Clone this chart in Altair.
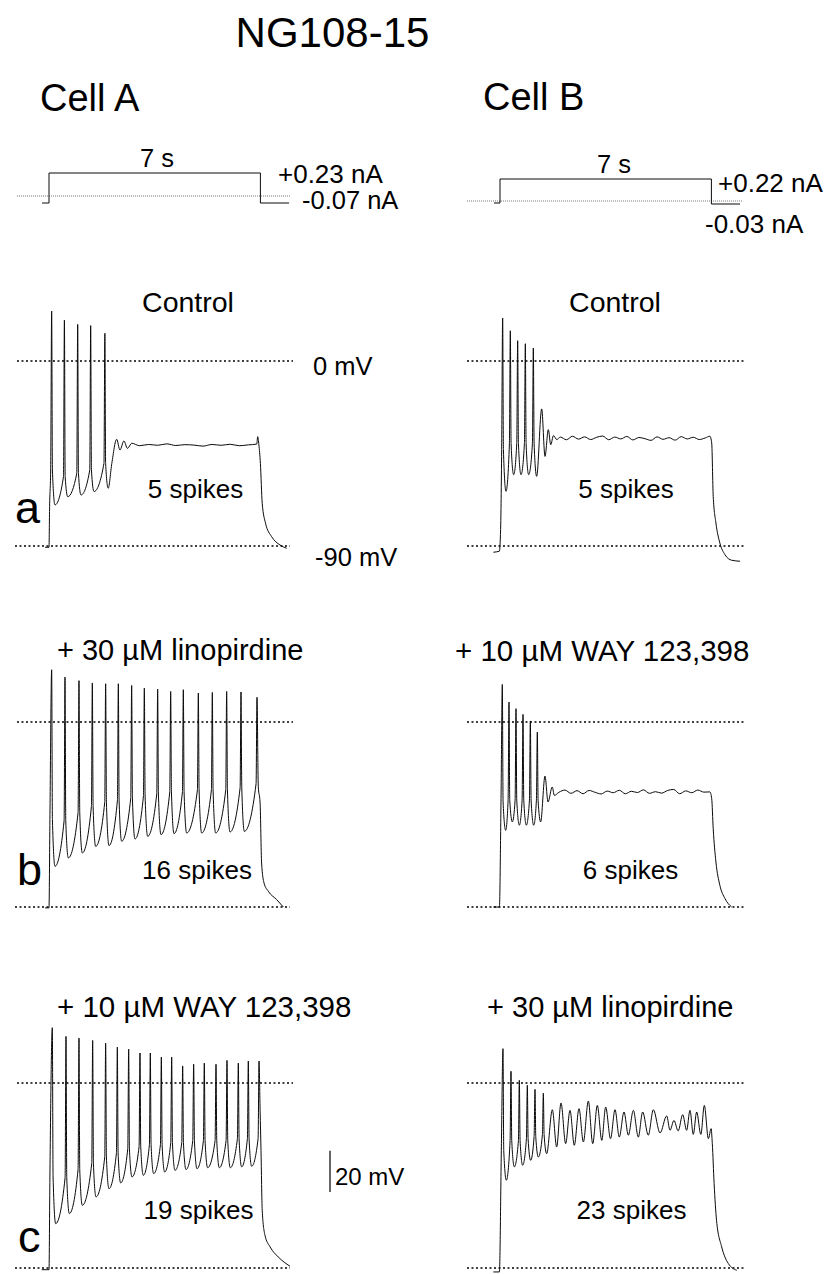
import altair as alt
import pandas as pd

FONT = "Liberation Sans"
INK = "#0a0a0a"

# ---------------- current steps (t in s, I in nA) ----------------
STEP_A_T = [-0.23, 0.0, 0.0, 7.0, 7.0, 7.95]
STEP_A_I = [-0.07, -0.07, 0.23, 0.23, -0.07, -0.07]
STEP_B_T = [-0.20, 0.0, 0.0, 7.0, 7.0, 7.95]
STEP_B_I = [-0.02, -0.02, 0.22, 0.22, -0.03, -0.03]

# ---------------- Cell A, control (mV) ----------------
A1_HEAD_T = [-0.13, 0.0, 0.02, 0.055]
A1_HEAD_V = [-90.6, -90.6, -70.8, -53.0]
A1_SPK_T = [0.088, 0.51, 0.95, 1.38, 1.85]
A1_SPK_V = [24.3, 19.9, 17.8, 17.2, 13.5]
A1_FOOT_V = [None, -56.2, -54.6, -53.0, -49.8]
A1_TRG_V = [-70.0, -66.0, -65.2, -63.5, -61.9]
A1_TAIL_T = [2.08, 2.24, 2.35, 2.48, 2.60, 2.74, 3.0, 3.3, 3.6, 3.9, 4.2, 4.5, 4.8, 5.1,
             5.4, 5.7, 6.0, 6.3, 6.6, 6.88, 6.91, 6.95, 7.0, 7.06, 7.17, 7.37, 7.65, 7.87]
A1_TAIL_V = [-49.8, -38.1, -43.3, -38.9, -42.5, -40.0, -41.2, -40.6, -41.0, -40.3, -41.1, -40.7, -40.9, -41.4,
             -40.6, -41.0, -40.5, -41.2, -40.8, -40.4, -36.8, -40.8, -49.8, -69.2, -78.9, -85.4, -89.5, -91.1]

# ---------------- Cell A, + 30 uM linopirdine ----------------
A2_HEAD_T = [-0.13, 0.0, 0.03]
A2_HEAD_V = [-90.4, -90.4, -47.5]
A2_SPK_T = [0.088, 0.53, 0.993, 1.435, 1.876, 2.296, 2.737, 3.157, 3.598, 4.029, 4.448, 4.945,
            5.408, 5.883, 6.358, 6.887]
A2_SPK_V = [25.4, 21.9, 20.1, 19.0, 18.6, 18.6, 17.8, 16.5, 16.0, 14.9, 15.7, 14.1, 14.4, 14.9, 14.6, 12.0]
A2_FOOT_V = [None, -48, -44, -41, -39, -38, -37, -36, -35, -34, -34, -33, -33, -33, -32, -30]
A2_TRG_V = [-70.2, -66.1, -63.7, -60.5, -60.1, -58.0, -56.9, -55.6, -54.8, -54.3, -54.0, -54.0,
            -54.0, -53.5, -53.2, None]
A2_TAIL_T = [6.93, 6.99, 7.04, 7.12, 7.26, 7.54, 7.76]
A2_TAIL_V = [-31.3, -39.4, -68.6, -78.3, -82.3, -86.4, -90.0]

# ---------------- Cell A, + 10 uM WAY 123,398 ----------------
A3_HEAD_T = [-0.24, 0.0, 0.03]
A3_HEAD_V = [-90.8, -90.8, -45.7]
A3_SPK_T = [0.110, 0.563, 0.993, 1.446, 1.876, 2.263, 2.638, 3.013, 3.355, 3.720, 4.062, 4.426,
            4.790, 5.143, 5.530, 5.894, 6.269, 6.600, 6.954]
A3_SPK_V = [26.9, 22.7, 21.9, 20.7, 19.4, 17.5, 16.5, 14.6, 14.6, 12.6, 12.6, 8.3, 9.1, 9.7, 9.1,
            11.0, 9.7, 10.7, 10.7]
A3_FOOT_V = [None, -46, -42, -39, -36, -34, -32, -31, -30, -30, -29, -29, -28, -28, -28, -28, -27, -27, -27]
A3_TRG_V = [-68.4, -63.5, -59.5, -55.4, -51.4, -48.6, -45.7, -44.9, -44.1, -43.3, -42.5, -42.1,
            -41.7, -41.2, -41.2, -41.2, -40.8, -40.5, None]
A3_TAIL_T = [6.99, 7.02, 7.06, 7.15, 7.32, 7.59, 7.98]
A3_TAIL_V = [-13.3, -32.7, -61.9, -74.0, -79.7, -84.6, -89.1]

# ---------------- Cell B, control ----------------
B1_HEAD_T = [-0.22, -0.02, 0.02, 0.055]
B1_HEAD_V = [-93.0, -92.5, -82.0, -43.1]
B1_SPK_T = [0.088, 0.342, 0.585, 0.839, 1.104]
B1_SPK_V = [20.9, 14.7, 9.9, 8.4, 6.3]
B1_FOOT_V = [None, -40.0, -40.0, -40.0, -40.0]
B1_TRG_V = [-63.4, -55.3, -55.3, -55.3, -56.1]
B1_TAIL_T = [1.38, 1.49, 1.60, 1.68, 1.77, 1.88,
             2.0, 2.2, 2.4, 2.6, 2.8, 3.0, 3.2, 3.4, 3.6, 3.8, 4.0, 4.2, 4.4, 4.6, 4.8, 5.0,
             5.2, 5.4, 5.6, 5.8, 6.0, 6.2, 6.4, 6.6, 6.8, 6.95,
             7.01, 7.06, 7.15, 7.28, 7.45, 7.67, 7.95]
B1_TAIL_V = [-23.3, -46.4, -33.4, -40.7, -36.3, -38.2,
             -37.0, -38.3, -36.6, -38.0, -36.9, -38.2, -37.1, -36.5, -38.3, -37.0, -37.9, -36.7,
             -38.4, -37.2, -37.8, -38.6, -36.9, -38.1, -37.3, -38.5, -36.8, -37.9, -37.1, -38.2,
             -37.4, -36.6,
             -39.9, -65.8, -78.8, -88.5, -94.2, -96.9, -97.4]

# ---------------- Cell B, + 10 uM WAY 123,398 ----------------
B2_HEAD_T = [-0.22, -0.02, 0.033]
B2_HEAD_V = [-90.0, -90.0, -38.9]
B2_SPK_T = [0.077, 0.298, 0.53, 0.762, 1.005, 1.236]
B2_SPK_V = [18.3, 9.7, 6.5, 3.7, 0.5, -4.9]
B2_FOOT_V = [None, -38.0, -38.0, -38.0, -38.0, -38.0]
B2_TRG_V = [-52.7, -48.6, -50.2, -50.2, -50.2, -48.6]
B2_TAIL_T = [1.49, 1.59, 1.73, 1.80,
             1.95, 2.15, 2.35, 2.55, 2.75, 2.95, 3.15, 3.35, 3.55, 3.75, 3.95, 4.15, 4.35, 4.55,
             4.75, 4.95, 5.15, 5.35, 5.55, 5.75, 5.95, 6.15, 6.35, 6.55, 6.75, 6.95,
             7.01, 7.06, 7.15, 7.28, 7.45, 7.67]
B2_TAIL_V = [-26.3, -38.9, -31.6, -35.7,
             -34.2, -33.1, -34.7, -33.4, -34.9, -33.3, -34.2, -35.0, -33.6, -34.4, -33.2, -34.9,
             -33.7, -34.3, -33.0, -34.7, -33.9, -34.6, -33.3, -32.8, -34.9, -33.5, -34.4, -33.1,
             -34.1, -34.0,
             -37.3, -51.9, -68.1, -79.4, -85.9, -90.0]

# ---------------- Cell B, + 30 uM linopirdine ----------------
B3_HEAD_T = [-0.22, -0.02, 0.044]
B3_HEAD_V = [-91.9, -91.9, -32.7]
B3_SPK_T = [0.099, 0.364, 0.64, 0.905, 1.159, 1.435]
B3_SPK_V = [16.7, 5.7, 1.3, -1.1, -3.1, -4.9]
B3_FOOT_V = [None, -28.0, -28.0, -27.0, -26.0, -25.0]
B3_TRG_V = [-47.3, -40.8, -40.0, -37.6, -36.0, -34.4]
B3_OSC_PK_T = [1.733, 2.02, 2.318, 2.616, 2.925, 3.223, 3.499, 3.808, 4.106, 4.415, 4.724, 5.077,
               5.519, 5.76, 6.049, 6.291, 6.512, 6.766]
B3_OSC_PK_V = [-13.0, -9.7, -13.3, -12.5, -8.8, -10.9, -11.7, -13.0, -14.1, -13.3, -14.1, -13.0,
               -16.0, -18.2, -15.4, -13.3, -14.1, -10.9]
B3_OSC_TR_T = [1.876, 2.174, 2.46, 2.76, 3.07, 3.37, 3.66, 3.95, 4.25, 4.58, 4.91, 5.30,
               5.63, 5.90, 6.18, 6.40, 6.65, 6.90]
B3_OSC_TR_V = [-31.1, -29.5, -30.3, -28.7, -29.5, -27.9, -27.1, -26.3, -25.4, -26.3, -25.4, -24.3,
               -23.0, -23.3, -23.0, -25.0, -25.0, -27.1]
B3_TAIL_T = [6.99, 7.03, 7.09, 7.17, 7.34, 7.56, 7.84]
B3_TAIL_V = [-22.2, -29.5, -48.9, -66.8, -79.7, -87.8, -91.1]

# ---------------- layout / drawing constants ----------------
RISE, FALL, AHP = 0.03, 0.025, 0.11          # spike shape (s)
COL_W = [432, 386]
ORIGIN_X = [41, 60]                           # px of t = 0 inside each column
ROW_H = [233, 361, 361, 311]
PX_PER_S, PX_PER_MV, PX_PER_NA = 30.2, 2.056, 100.0


def trace_df(head_t, head_v, spk_t, spk_v, foot_v, trg_v, tail_t, tail_v):
    pts = list(zip(head_t, head_v, strict=True))
    for t, pk, ft, tr in zip(spk_t, spk_v, foot_v, trg_v, strict=True):
        if ft is not None:
            pts.append((t - RISE, ft))
        pts.append((t, pk))
        if tr is not None:
            pts.append((t + FALL, ft if ft is not None else head_v[-1]))
            pts.append((t + AHP, tr))
    pts += list(zip(tail_t, tail_v, strict=True))
    pts.sort(key=lambda p: p[0])
    return pd.DataFrame({"t": [p[0] for p in pts], "v": [p[1] for p in pts],
                         "i": list(range(len(pts)))})


def xscale(col):
    lo = -ORIGIN_X[col] / PX_PER_S
    hi = (COL_W[col] - ORIGIN_X[col]) / PX_PER_S
    return alt.Scale(domain=[lo, hi], nice=False, zero=False)


def yscale(row, zero_px, unit_px):
    return alt.Scale(domain=[-(ROW_H[row] - zero_px) / unit_px, zero_px / unit_px],
                     nice=False, zero=False)


def line_layer(df, sx, sy, interp="monotone", width=1.0):
    return alt.Chart(df).mark_line(color=INK, strokeWidth=width, interpolate=interp).encode(
        x=alt.X("t:Q", scale=sx, axis=None),
        y=alt.Y("v:Q", scale=sy, axis=None),
        order="i:Q")


def hlines(t1, t2, v, sx, sy, dash, color, width):
    df = pd.DataFrame({"t1": t1, "t2": t2, "v": v})
    return alt.Chart(df).mark_rule(strokeDash=dash, color=color, strokeWidth=width).encode(
        x=alt.X("t1:Q", scale=sx, axis=None), x2="t2:Q",
        y=alt.Y("v:Q", scale=sy, axis=None))


def txt(label, t, v, size, align, sx, sy):
    df = pd.DataFrame({"t": [t], "v": [v], "label": [label]})
    return alt.Chart(df).mark_text(align=align, baseline="alphabetic", fontSize=size,
                                   font=FONT, color="black").encode(
        x=alt.X("t:Q", scale=sx, axis=None),
        y=alt.Y("v:Q", scale=sy, axis=None),
        text="label:N")


def step_df(ts, cs):
    return pd.DataFrame({"t": ts, "v": cs, "i": list(range(len(ts)))})


# ---------------- row 0: title, cell names, current steps ----------------
sxA, sxB = xscale(0), xscale(1)

sy0A = yscale(0, 188, PX_PER_NA)
a0 = alt.layer(
    hlines([-1.06], [8.01], [0.0], sxA, sy0A, [1, 1], "#777777", 1.0),
    line_layer(step_df(STEP_A_T, STEP_A_I), sxA, sy0A, interp="linear"),
    txt("NG108-15", 9.387, 1.495, 42, "center", sxA, sy0A),
    txt("Cell A", -0.298, 0.85, 38, "left", sxA, sy0A),
    txt("7 s", 3.576, 0.29, 25.5, "center", sxA, sy0A),
    txt("+0.23 nA", 7.583, 0.13, 26, "left", sxA, sy0A),
    txt("-0.07 nA", 8.377, -0.13, 25.5, "left", sxA, sy0A),
).properties(width=COL_W[0], height=ROW_H[0])

sy0B = yscale(0, 193, PX_PER_NA)
b0 = alt.layer(
    hlines([-1.093], [8.05], [0.0], sxB, sy0B, [1, 1], "#777777", 1.0),
    line_layer(step_df(STEP_B_T, STEP_B_I), sxB, sy0B, interp="linear"),
    txt("Cell B", -0.563, 0.91, 38, "left", sxB, sy0B),
    txt("7 s", 3.775, 0.28, 25.5, "center", sxB, sy0B),
    txt("+0.22 nA", 7.219, 0.09, 26, "left", sxB, sy0B),
    txt("-0.03 nA", 6.788, -0.32, 26, "left", sxB, sy0B),
).properties(width=COL_W[1], height=ROW_H[0])

DOT = [2, 2.5]


def volt_panel(col, row, df, texts, extra=()):
    sx = xscale(col)
    sy = yscale(row, 120, PX_PER_MV)
    if col == 0:
        lines = hlines([-1.06, -1.126], [8.08, 7.98], [0.0, -90.0], sx, sy, DOT, "black", 1.4)
    else:
        lines = hlines([-1.093, -1.093], [8.08, 8.08], [0.0, -90.0], sx, sy, DOT, "black", 1.4)
    layers = [lines, line_layer(df, sx, sy)]
    for (label, t, v, size, align) in texts:
        layers.append(txt(label, t, v, size, align, sx, sy))
    for maker in extra:
        layers.append(maker(sx, sy))
    return alt.layer(*layers).properties(width=COL_W[col], height=ROW_H[row])


def scale_bar(sx, sy):
    df = pd.DataFrame({"t": [9.305], "v1": [-33.0], "v2": [-53.0]})
    return alt.Chart(df).mark_rule(color="black", strokeWidth=1.2).encode(
        x=alt.X("t:Q", scale=sx, axis=None),
        y=alt.Y("v1:Q", scale=sy, axis=None), y2="v2:Q")


a1 = volt_panel(0, 1, trace_df(A1_HEAD_T, A1_HEAD_V, A1_SPK_T, A1_SPK_V, A1_FOOT_V, A1_TRG_V,
                               A1_TAIL_T, A1_TAIL_V),
                [("Control", 4.603, 23.83, 28.5, "center"),
                 ("0 mV", 8.742, -6.81, 25.5, "left"),
                 ("-90 mV", 8.808, -99.71, 25.5, "left"),
                 ("5 spikes", 4.851, -66.63, 26, "center"),
                 ("a", -1.126, -78.79, 45, "left")])
b1 = volt_panel(1, 1, trace_df(B1_HEAD_T, B1_HEAD_V, B1_SPK_T, B1_SPK_V, B1_FOOT_V, B1_TRG_V,
                               B1_TAIL_T, B1_TAIL_V),
                [("Control", 3.808, 23.83, 28.5, "center"),
                 ("5 spikes", 4.172, -66.63, 26, "center")])

a2 = volt_panel(0, 2, trace_df(A2_HEAD_T, A2_HEAD_V, A2_SPK_T, A2_SPK_V, A2_FOOT_V, A2_TRG_V,
                               A2_TAIL_T, A2_TAIL_V),
                [("+ 30 µM linopirdine", 0.265, 30.16, 29, "left"),
                 ("16 spikes", 4.901, -76.36, 26, "center"),
                 ("b", -1.06, -79.28, 45, "left")])
b2 = volt_panel(1, 2, trace_df(B2_HEAD_T, B2_HEAD_V, B2_SPK_T, B2_SPK_V, B2_FOOT_V, B2_TRG_V,
                               B2_TAIL_T, B2_TAIL_V),
                [("+ 10 µM WAY 123,398", -1.49, 29.67, 29.5, "left"),
                 ("6 spikes", 4.321, -76.36, 26, "center")])

a3 = volt_panel(0, 3, trace_df(A3_HEAD_T, A3_HEAD_V, A3_SPK_T, A3_SPK_V, A3_FOOT_V, A3_TRG_V,
                               A3_TAIL_T, A3_TAIL_V),
                [("+ 10 µM WAY 123,398", 0.265, 32.1, 29.5, "left"),
                 ("19 spikes", 4.950, -66.15, 26, "center"),
                 ("c", -1.026, -82.2, 45, "left"),
                 ("20 mV", 9.47, -49.6, 24, "left")],
                extra=(scale_bar,))
b3_tail_t = B3_OSC_PK_T + B3_OSC_TR_T + B3_TAIL_T
b3_tail_v = B3_OSC_PK_V + B3_OSC_TR_V + B3_TAIL_V
b3 = volt_panel(1, 3, trace_df(B3_HEAD_T, B3_HEAD_V, B3_SPK_T, B3_SPK_V, B3_FOOT_V, B3_TRG_V,
                               b3_tail_t, b3_tail_v),
                [("+ 30 µM linopirdine", -0.43, 32.1, 29, "left"),
                 ("23 spikes", 4.354, -66.15, 26, "center")])

chart = alt.concat(a0, b0, a1, b1, a2, b2, a3, b3, columns=2, spacing=0,
                   bounds="flush", align="each").properties(padding=0).configure_view(
    strokeWidth=0)

chart.save("out.html", embed_options={"renderer": "svg", "actions": False})
